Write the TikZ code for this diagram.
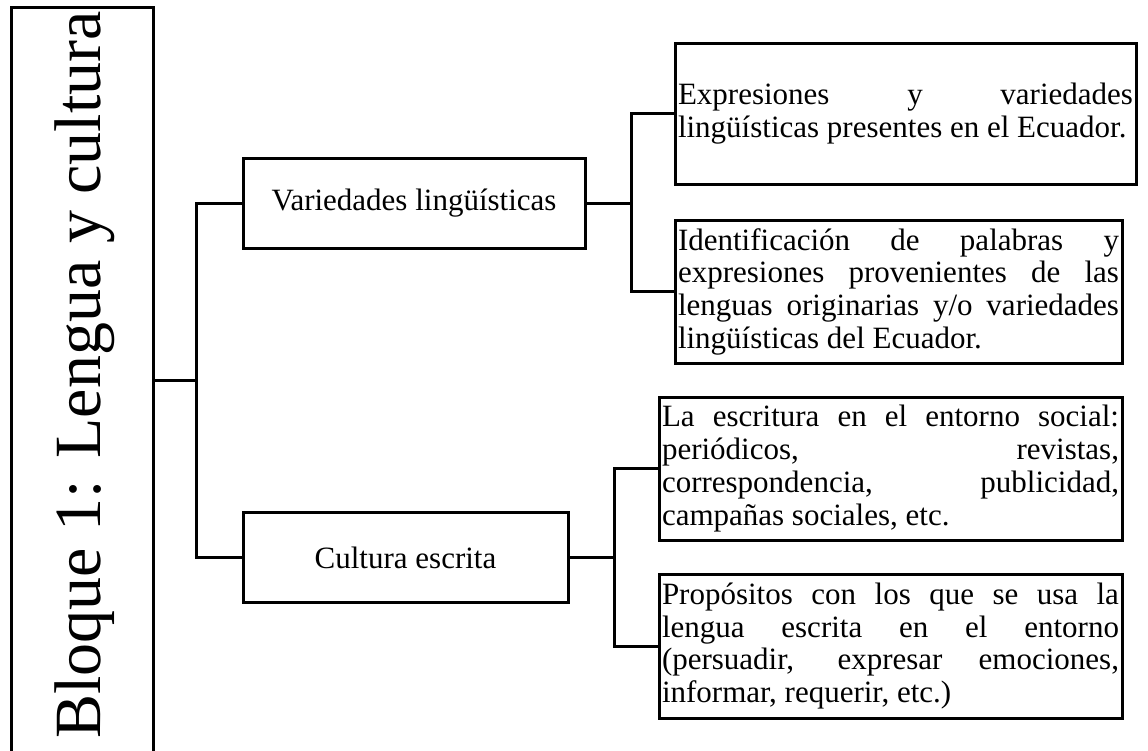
\documentclass[tikz,border=0pt]{standalone}
\usepackage{fontspec}
\setmainfont{Liberation Serif}
\usepackage{tikz}
\hyphenpenalty=10000
\tolerance=10000
\hbadness=10000

\begin{document}
\begin{tikzpicture}
    [x = 1pt, y = -1pt, line width = 3pt,
     every node/.style = {draw, line width = 3pt, inner sep = 3pt, font = \fontsize{31}{32.7}\selectfont},
     topic/.style = {minimum height = 90pt},
     detail/.style = {align = justify, minimum height = 143pt}]
    \useasboundingbox (0,0) rectangle (1148,750);

    \node[minimum width = 142pt, minimum height = 747pt] (bloque) at (82,380.5) {};
    \node[draw = none, rotate = 90, anchor = base, font = \fontsize{66}{70}\selectfont] (titulo) at (100,375) {Bloque 1: Lengua y cultura};

    \node[topic, minimum width = 342pt] (var) at (414,203) {Variedades lingüísticas};
    \node[topic, minimum width = 325pt] (cult) at (405.5,557.5) {Cultura escrita};

    \node[detail, text width = 455pt, minimum height = 141pt] (expr) at (905.5,113.5)
      {Expresiones y variedades\linebreak lingüísticas presentes en el Ecuador.};
    \node[detail, text width = 441pt] (ident) at (898.5,291.5)
      {Identificación de palabras y\linebreak expresiones provenientes de las\linebreak lenguas originarias y/o variedades\linebreak lingüísticas del Ecuador.};
    \node[detail, text width = 457pt] (escr) at (890.5,468.5)
      {La escritura en el entorno social:\linebreak periódicos, revistas,\linebreak correspondencia, publicidad,\linebreak campañas sociales, etc.};
    \node[detail, text width = 457pt, minimum height = 144pt] (prop) at (890.5,646)
      {Propósitos con los que se usa la\linebreak lengua escrita en el entorno\linebreak (persuadir, expresar emociones,\linebreak informar, requerir, etc.)};

    \foreach \to in {var,cult}
      \draw (\to.west) -- ++(-45,0) |- (bloque.east);
    \foreach \from/ \to in {var/expr,var/ident,cult/escr,cult/prop}
      \draw (\from.east) -- ++(45,0) |- (\to.west);
\end{tikzpicture}
\end{document}
